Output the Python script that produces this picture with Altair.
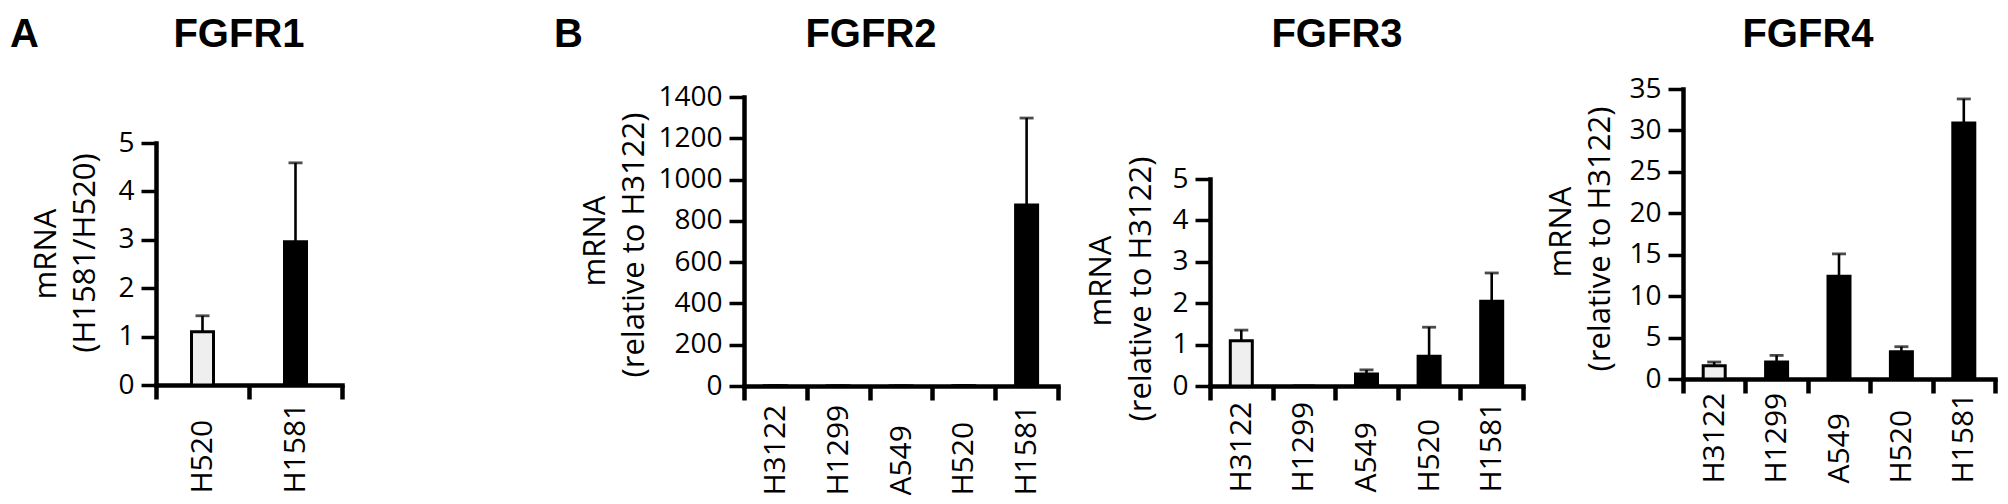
import altair as alt
import pandas as pd

# ---------------- data ----------------
fgfr1_cells = ["H520", "H1581"]
fgfr1_mean = [1.10, 2.96]
fgfr1_err = [0.33, 1.63]

cells = ["H3122", "H1299", "A549", "H520", "H1581"]
fgfr2_mean = [1.0, 0.6, 0.4, 1.5, 877]
fgfr2_err = [0.3, 0.2, 0.1, 0.5, 421]
fgfr3_mean = [1.09, 0.0, 0.29, 0.72, 2.05]
fgfr3_err = [0.26, 0.0, 0.10, 0.70, 0.68]
fgfr4_mean = [1.6, 2.05, 12.4, 3.3, 30.9]
fgfr4_err = [0.45, 0.8, 2.7, 0.6, 2.9]

TXT = "Open Sans"
BOLD = "Liberation Sans"
H = 297


def txt(s, x, y, size, bold=False, angle=0, align="center", baseline="alphabetic"):
    return alt.Chart(pd.DataFrame({"t": [s]})).mark_text(
        font=BOLD if bold else TXT, fontSize=size,
        fontWeight="bold" if bold else "normal", angle=angle, align=align,
        baseline=baseline, color="black").encode(
        text="t:N", x=alt.value(x), y=alt.value(y))


def panel(title, title_x, cats, mean, err, ref, ymax, ystep, ytitle, yt_pos,
          yrange, plot_w, total_w, x_off, label_pad, letter=None, letter_x=0):
    df = pd.DataFrame({"cell": cats, "mean": mean, "err": err})
    df["top"] = df["mean"] + df["err"]

    xaxis = alt.Axis(title=None, tickBand="extent", labelAngle=270, labelAlign="left",
                     labelBaseline="middle", labelPadding=label_pad, labelFont=TXT,
                     labelFontSize=30, labelColor="black", tickSize=14, tickWidth=4.5,
                     tickColor="black", domainWidth=4.5, domainColor="black",
                     domainCap="square", offset=x_off, labelOverlap=False, grid=False)
    yaxis = alt.Axis(values=list(range(0, ymax + 1, ystep)), title=None,
                     labelFont=TXT, labelFontSize=28, labelColor="black", labelPadding=7,
                     tickSize=15, tickWidth=3.5, tickColor="black", domainWidth=4.5,
                     domainColor="black", domainCap="square", grid=False, format="d")
    xs = alt.Scale(range=[0, plot_w], paddingInner=0, paddingOuter=0)
    ys = alt.Scale(domain=[0, ymax], range=yrange, nice=False, zero=True)

    x = alt.X("cell:N", sort=cats, scale=xs, axis=xaxis)
    base = alt.Chart(df)
    bars = base.mark_bar(width=22, stroke="black", strokeWidth=3).encode(
        x=x,
        y=alt.Y("mean:Q", scale=ys, axis=yaxis),
        fill=alt.condition(alt.datum.cell == ref, alt.value("#efefef"), alt.value("black")),
    )
    rule = base.transform_filter(alt.datum.err > 0).mark_rule(
        strokeWidth=2.6, color="black").encode(
        x=x, y=alt.Y("mean:Q", scale=ys, axis=yaxis), y2="top:Q")
    cap = base.transform_filter(alt.datum.err > 0).mark_tick(
        size=14, thickness=2.8, color="black").encode(
        x=x, y=alt.Y("top:Q", scale=ys, axis=yaxis))

    layers = [rule, bars, cap,
              txt(title, title_x, -42, 40, bold=True)]
    (x1, y1), (x2, y2) = yt_pos
    layers.append(txt(ytitle[0], x1, y1, 31, angle=270, baseline="middle"))
    layers.append(txt(ytitle[1], x2, y2, 31, angle=270, baseline="middle"))
    if letter:
        layers.append(txt(letter, letter_x, -42, 40, bold=True, align="left"))
    return alt.layer(*layers).properties(width=total_w, height=H)


p1 = panel("FGFR1", 83, fgfr1_cells, fgfr1_mean, fgfr1_err, "H520", 5, 1,
           ["mRNA", "(H1581/H520)"], [(-109, 165), (-70, 164)],
           [296, 54], 186, 488, -1, 94, letter="A", letter_x=-146)
p2 = panel("FGFR2", 127, cells, fgfr2_mean, fgfr2_err, "H3122", 1400, 200,
           ["mRNA", "(relative to H3122)"], [(-148, 152), (-109, 156)],
           [297, 8], 314, 366, 0, 95, letter="B", letter_x=-190)
p3 = panel("FGFR3", 127, cells, fgfr3_mean, fgfr3_err, "H3122", 5, 1,
           ["mRNA", "(relative to H3122)"], [(-108, 192), (-68, 200)],
           [297, 90], 313, 373, 0, 92)
p4 = panel("FGFR4", 125, cells, fgfr4_mean, fgfr4_err, "H3122", 35, 5,
           ["mRNA", "(relative to H3122)"], [(-121, 143), (-82, 150)],
           [290, 0], 312, 312, -7, 90)

chart = alt.hconcat(p1, p2, p3, p4, spacing=100, bounds="flush").properties(
    padding={"left": 2, "top": 7, "right": 0, "bottom": 0},
    background="white",
).configure_view(stroke="transparent", strokeWidth=0)

chart.save("out.html", embed_options={"renderer": "svg", "actions": False})
